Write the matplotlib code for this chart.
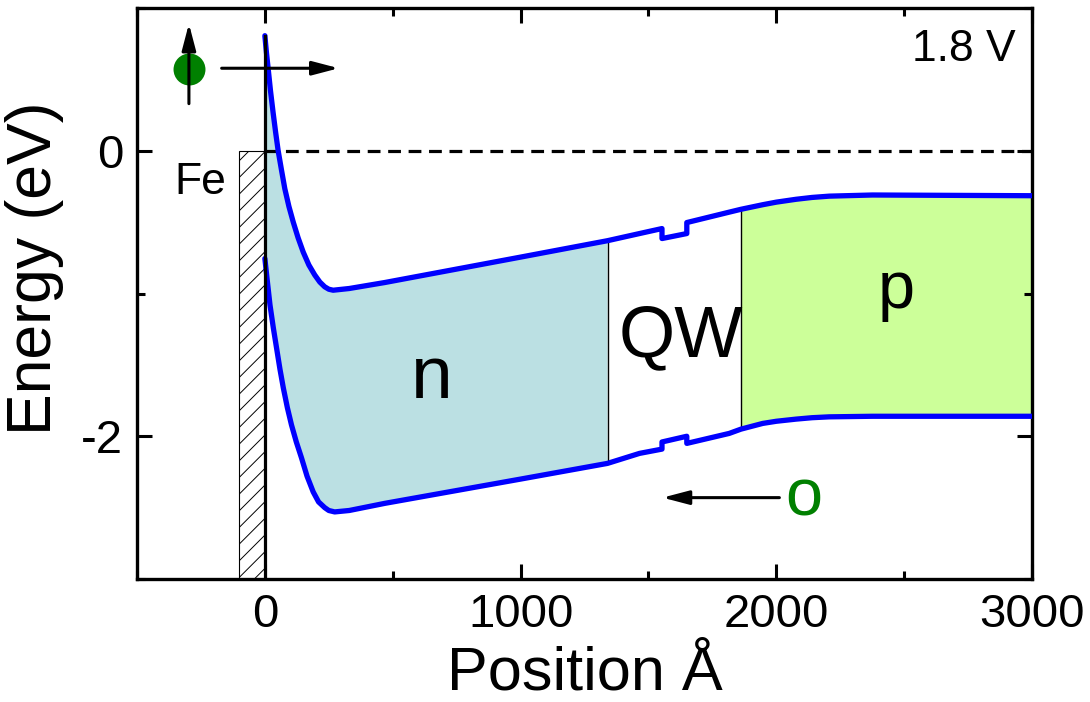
import matplotlib
matplotlib.use("Agg")
import matplotlib.pyplot as plt
from matplotlib.patches import Rectangle
from matplotlib.ticker import MultipleLocator
import numpy as np

plt.rcParams["font.family"] = ["Liberation Sans", "DejaVu Sans"]
plt.rcParams["hatch.linewidth"] = 0.7
plt.rcParams["axes.unicode_minus"] = False

# conduction band edge (position in Å, energy in eV)
ec_x = [0, 6, 13, 22, 32, 42, 52, 65, 78, 94, 111, 130, 150, 172, 195, 215,
        234, 250, 267, 330, 469, 1000, 1340, 1465, 1553, 1553, 1650, 1650,
        1816, 1862, 1947, 2000, 2077, 2140, 2207, 2376, 3000]
ec_e = [0.806, 0.69, 0.573, 0.42, 0.27, 0.13, 0.0, -0.135, -0.266, -0.39,
        -0.50, -0.61, -0.71, -0.80, -0.87, -0.92, -0.953, -0.97, -0.977,
        -0.965, -0.923, -0.745, -0.63, -0.58, -0.545, -0.615, -0.58, -0.503,
        -0.43, -0.41, -0.378, -0.36, -0.34, -0.327, -0.318, -0.31, -0.315]

# valence band edge
ev_x = [0, 10, 20, 33, 46, 59, 72, 88, 104, 123, 143, 165, 189, 210, 234,
        250, 273, 330, 469, 1000, 1340, 1465, 1553, 1553, 1650, 1650, 1816,
        1862, 1947, 2000, 2077, 2140, 2207, 2376, 3000]
ev_e = [-0.755, -0.92, -1.08, -1.24, -1.385, -1.53, -1.66, -1.80, -1.92,
        -2.04, -2.15, -2.28, -2.39, -2.46, -2.50, -2.52, -2.53, -2.52, -2.47,
        -2.30, -2.19, -2.12, -2.09, -2.04, -2.0, -2.05, -1.98, -1.95, -1.91,
        -1.895, -1.88, -1.87, -1.864, -1.86, -1.86]

n_end = 1340      # end of n-region
p_start = 1862    # start of p-region
fe_left = -100    # Fe contact

ec_x, ec_e = np.array(ec_x), np.array(ec_e)
ev_x, ev_e = np.array(ev_x), np.array(ev_e)

fig = plt.figure(figsize=(10.9, 7.02), dpi=100)
ax = fig.add_axes([0.1257, 0.1752, 0.8211, 0.8134])

# shaded n and p regions between the band edges
m1, m2 = ec_x <= n_end, ev_x <= n_end
ax.fill(np.concatenate([ec_x[m1], ev_x[m2][::-1]]),
        np.concatenate([ec_e[m1], ev_e[m2][::-1]]),
        color="#bbe0e3", lw=0, zorder=1)
m1, m2 = ec_x >= p_start, ev_x >= p_start
ax.fill(np.concatenate([ec_x[m1], ev_x[m2][::-1]]),
        np.concatenate([ec_e[m1], ev_e[m2][::-1]]),
        color="#ccff99", lw=0, zorder=1)

for xb in (n_end, p_start):
    top = ec_e[ec_x == xb][0]
    bot = ev_e[ev_x == xb][0]
    ax.plot([xb, xb], [bot, top], color="k", lw=1.0, zorder=2)

# Fe contact
ax.add_patch(Rectangle((fe_left, -3), -fe_left, 3, facecolor="white",
                       edgecolor="k", hatch="//", lw=0.8, zorder=2))

ax.plot([0, 3000], [0, 0], color="k", lw=2.3, dashes=(4, 2.4), zorder=2)
ax.plot([0, 0], [-3, ec_e[0]], color="k", lw=2.3, zorder=4)

ax.plot(ec_x, ec_e, color="#0000ff", lw=3.8, solid_joinstyle="round",
        solid_capstyle="round", zorder=3)
ax.plot(ev_x, ev_e, color="#0000ff", lw=3.8, solid_joinstyle="round",
        solid_capstyle="round", zorder=3)

# spin-polarised electron and hole symbols
ax.plot([-297], [0.575], "o", color="#008000", ms=23, mec="none", zorder=3)
arrow = dict(arrowstyle="-|>,head_length=1.6,head_width=0.42", color="k",
             lw=2.2, mutation_scale=10, shrinkA=0, shrinkB=0)
ax.annotate("", xy=(-297, 0.89), xytext=(-297, 0.33), arrowprops=arrow, zorder=5)
ax.annotate("", xy=(289, 0.578), xytext=(-169, 0.578), arrowprops=arrow, zorder=5)
ax.annotate("", xy=(1555, -2.43), xytext=(2012, -2.43), arrowprops=arrow, zorder=5)
ax.text(2109, -2.555, "o", color="#008000", fontsize=48, ha="center", va="baseline")

ax.text(652, -1.73, "n", fontsize=54, ha="center", va="baseline")
ax.text(1626, -1.44, "QW", fontsize=52, ha="center", va="baseline")
ax.text(2468, -1.105, "p", fontsize=48, ha="center", va="baseline")
ax.text(-352, -0.30, "Fe", fontsize=32, ha="left", va="baseline")
ax.text(2937, 0.63, "1.8 V", fontsize=32, ha="right", va="baseline")

ax.set_xlim(-500, 3000)
ax.set_ylim(-3, 1)
ax.xaxis.set_major_locator(MultipleLocator(1000))
ax.xaxis.set_minor_locator(MultipleLocator(500))
ax.yaxis.set_major_locator(MultipleLocator(2))
ax.yaxis.set_minor_locator(MultipleLocator(1))
ax.tick_params(which="both", direction="in", top=True, right=True, width=2.2,
               labelsize=34, pad=10)
ax.tick_params(which="major", length=11)
ax.tick_params(which="minor", length=6)
for s in ax.spines.values():
    s.set_linewidth(2.4)

fig.text(35 / 1090, 1 - 268 / 702, "Energy (eV)", rotation=90, fontsize=45,
         ha="center", va="center")
fig.text(585 / 1090, 1 - 689 / 702, "Position Å", fontsize=44,
         ha="center", va="baseline")

fig.savefig("out.png", dpi=100)
